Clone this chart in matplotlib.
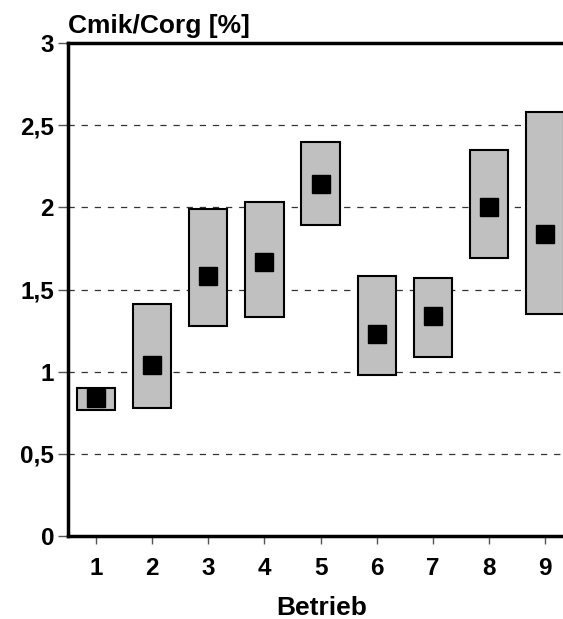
import matplotlib.pyplot as plt
from matplotlib.patches import Rectangle
from matplotlib.ticker import FuncFormatter

plt.rcParams['font.family'] = ['Liberation Sans', 'DejaVu Sans']
plt.rcParams['font.weight'] = 'bold'

betrieb = [1, 2, 3, 4, 5, 6, 7, 8, 9]
mins = [0.77, 0.78, 1.28, 1.33, 1.89, 0.98, 1.09, 1.69, 1.35]
maxs = [0.90, 1.41, 1.99, 2.03, 2.40, 1.58, 1.57, 2.35, 2.58]
means = [0.84, 1.04, 1.58, 1.67, 2.14, 1.23, 1.34, 2.00, 1.84]

fig = plt.figure(figsize=(5.63, 6.19), dpi=100)
ax = fig.add_axes([0.1208, 0.134, 0.8792, 0.7965])

# range boxes (min..max) with the mean as a black square
box_w = 0.68
for x, lo, hi in zip(betrieb, mins, maxs):
    ax.add_patch(Rectangle((x - box_w / 2, lo), box_w, hi - lo,
                           facecolor='#c0c0c0', edgecolor='black',
                           linewidth=1.5, zorder=3))
ax.plot(betrieb, means, linestyle='none', marker='s', markersize=12.5,
        color='black', zorder=4)

for y in [0.5, 1.0, 1.5, 2.0, 2.5]:
    ax.axhline(y, color='#333333', linestyle=(0, (5, 5.5)), linewidth=0.9, zorder=1)

ax.set_xlim(0.5, 9.32)
ax.set_ylim(0, 3)
ax.set_xticks(betrieb)
ax.set_yticks([0, 0.5, 1, 1.5, 2, 2.5, 3])
ax.yaxis.set_major_formatter(FuncFormatter(lambda v, p: f'{v:g}'.replace('.', ',')))

for side in ['left', 'bottom', 'top']:
    ax.spines[side].set_linewidth(2.5)
ax.spines['right'].set_visible(False)
ax.tick_params(axis='y', length=7, width=1, color='#555555',
               labelsize=17.5, pad=3)
ax.tick_params(axis='x', length=6, width=1, color='#555555',
               labelsize=17.5, pad=9)
for lbl in ax.get_xticklabels() + ax.get_yticklabels():
    lbl.set_fontweight('bold')

fig.text(0.1208, 0.946, 'Cmik/Corg [%]', fontsize=19, fontweight='bold',
         ha='left', va='baseline')
fig.text(0.572, 0.007, 'Betrieb', fontsize=19, fontweight='bold',
         ha='center', va='baseline')

fig.savefig('out.png', dpi=100)
